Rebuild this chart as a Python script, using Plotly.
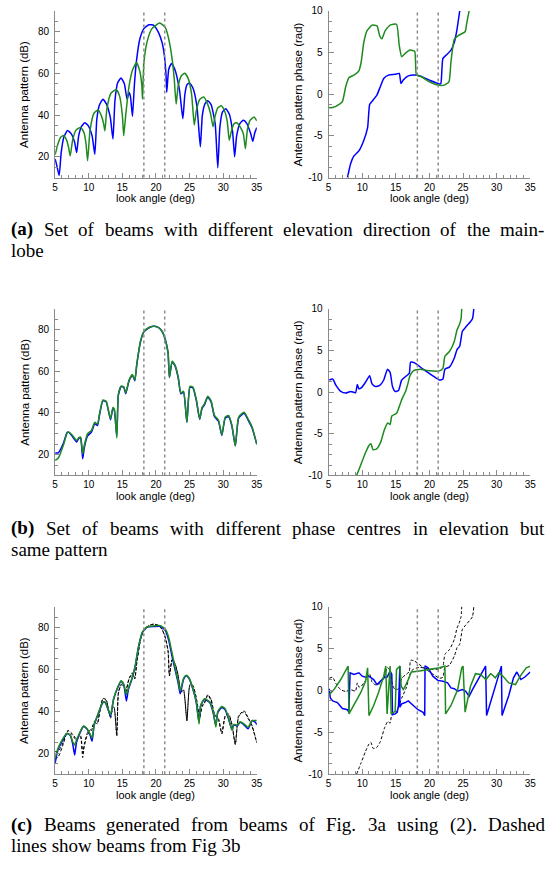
import plotly.graph_objects as go

W, H = 554, 870

# ---------------- data ----------------
# (a) amplitude
a_amp_blue_x = [5.0, 5.3, 5.6, 5.9, 6.3, 6.85, 7.4, 7.9, 8.2, 8.5, 8.9, 9.4, 9.9, 10.5, 10.9, 11.2, 11.6, 12.1, 12.6, 13.2, 13.6, 13.9, 14.3, 14.8, 15.3, 15.7, 16.0, 16.2, 16.5, 16.8, 17.1, 17.6, 18.2, 18.95, 19.7, 20.4, 20.9, 21.25, 21.5, 21.6, 21.9, 22.3, 22.8, 23.5, 24.0, 24.3, 24.6, 25.0, 25.5, 26.1, 26.6, 26.9, 27.3, 27.7, 28.2, 28.8, 29.2, 29.5, 29.9, 30.4, 30.9, 31.4, 31.7, 32.0, 32.5, 33.0, 33.5, 34.1, 34.4, 34.7, 35.0]
a_amp_blue_y = [19, 15, 11, 22, 29.5, 32.6, 31, 27, 22, 30, 34.5, 36.3, 35, 30, 21.2, 38, 45, 47.6, 45.5, 39, 28.5, 47, 55.5, 57.8, 55, 47.6, 50.8, 49, 39.4, 55, 66, 76.5, 81.5, 83.4, 83, 79.5, 74.9, 68.6, 59, 51, 62, 64.8, 62, 52, 38.3, 50, 54.5, 55.4, 53, 44, 24.8, 40, 45.5, 46.9, 45, 36, 14.7, 34, 41.5, 43, 40.5, 32, 20, 30, 36, 37.5, 36, 31, 27.4, 31.5, 34]
a_amp_green_x = [5.0, 5.4, 5.8, 6.27, 6.7, 7.0, 7.24, 7.6, 8.1, 8.8, 9.3, 9.6, 9.83, 10.2, 10.8, 11.4, 11.9, 12.2, 12.4, 12.7, 13.3, 14.1, 14.6, 15.0, 15.2, 15.5, 16.0, 16.5, 17.1, 17.6, 17.9, 18.0, 18.2, 18.7, 19.4, 20.56, 21.4, 21.9, 22.4, 22.7, 23.0, 23.3, 23.8, 24.3, 24.8, 25.3, 25.7, 26.0, 26.5, 27.1, 27.6, 28.1, 28.5, 28.8, 29.2, 29.7, 30.2, 30.6, 30.9, 31.2, 31.6, 32.0, 32.5, 33.0, 33.3, 33.6, 34.0, 34.6, 35.0]
a_amp_green_y = [21, 26, 29.3, 30.2, 28, 24.5, 20.4, 28, 32.8, 34.1, 31.5, 26, 18.1, 33, 41, 42.5, 39.5, 36, 32.4, 43, 50.5, 52.3, 49, 40, 30.1, 40, 54, 61.5, 65.2, 61, 54, 47.7, 65, 75.5, 81.5, 84.2, 82, 76.5, 67, 58, 45.3, 54, 59, 60.1, 57.5, 50, 35.2, 42, 47.5, 48.7, 46, 41, 34.4, 39.5, 43.5, 44.5, 42, 37, 27.9, 32, 35.8, 36.3, 34.5, 31, 23.9, 33, 37.5, 39.1, 37.2]

# (a) phase
a_ph_blue_x = [7.8, 8.28, 8.77, 9.5, 10.2, 10.8, 11.1, 11.46, 12.2, 12.7, 13.2, 13.9, 14.9, 15.5, 15.77, 16.1, 16.85, 17.8, 18.6, 20.0, 21.5, 21.7, 22.0, 22.5, 23.2, 23.7, 24.1, 24.5]
a_ph_blue_y = [-10, -8.3, -7.4, -6.8, -5.6, -4.0, -1.24, -0.85, -0.06, 0.93, 1.9, 2.3, 2.4, 2.5, 1.3, 1.7, 2.2, 2.3, 2.2, 1.7, 1.24, 1.3, 4.3, 4.7, 5.3, 6.25, 7.8, 10]
a_ph_green_x = [5.0, 5.6, 6.57, 7.06, 7.55, 8.03, 8.77, 9.5, 9.85, 10.24, 10.7, 11.46, 12.2, 12.6, 12.93, 13.4, 14.15, 15.1, 15.5, 15.87, 16.4, 17.1, 17.8, 18.07, 18.8, 20.0, 21.25, 22.2, 22.9, 23.2, 23.7, 24.4, 25.3, 25.56, 25.9]
a_ph_green_y = [-1.6, -1.6, -1.2, -0.85, 0.93, 2.0, 2.3, 2.8, 3.9, 6.25, 7.6, 8.3, 8.2, 7.0, 6.65, 7.6, 8.3, 8.4, 5.9, 4.5, 4.9, 5.3, 5.15, 2.3, 2.1, 1.5, 1.1, 1.1, 1.5, 3.9, 6.6, 7.1, 7.5, 8.6, 10]

# (b) amplitude
b_amp_blue_x = [5.0, 5.5, 6.27, 6.76, 7.0, 7.5, 8.2, 8.56, 8.8, 9.1, 9.34, 9.83, 10.4, 10.9, 11.3, 11.6, 12.1, 12.6, 12.85, 13.24, 13.6, 13.8, 14.17, 14.4, 14.8, 15.2, 15.5, 16.0, 16.5, 16.85, 17.15, 17.7, 18.2, 18.95, 19.6, 20.2, 20.9, 21.4, 21.8, 22.0, 22.4, 22.85, 23.3, 23.7, 24.1, 24.6, 25.05, 25.5, 26.0, 26.5, 26.85, 27.2, 27.7, 28.2, 28.7, 29.3, 29.8, 30.3, 30.8, 31.3, 31.8, 32.3, 33.1, 33.8, 34.3, 35.0]
b_amp_blue_y = [20.8, 21, 25.8, 30.5, 30.8, 29, 26.1, 28, 27.7, 18, 23.4, 29, 30.8, 34.8, 34, 39, 45.8, 45.3, 42.2, 36.7, 42.2, 41.4, 29, 48.4, 52.6, 52.3, 49.2, 55.5, 58.1, 55.5, 63.3, 74.2, 78.9, 80.9, 81.6, 81.3, 79.2, 75, 68.8, 57, 64.5, 62.5, 57, 49.2, 50, 35.5, 52.3, 52, 46, 37, 42.2, 43.8, 47.6, 45.3, 38.3, 36, 29.2, 37.5, 38.3, 33.6, 24.2, 37.5, 39.8, 36, 32.8, 25]
b_amp_green_x = b_amp_blue_x
b_amp_green_y = [17.2, 18.5, 25.0, 30.2, 30.8, 29.5, 26.8, 28.3, 28.4, 20.3, 24.5, 30.0, 31.6, 35.5, 34.6, 39.5, 46.2, 45.6, 42.5, 37.2, 42.6, 41.8, 28, 48.8, 52.9, 52.6, 49.6, 55.8, 58.4, 55.8, 63.5, 74.4, 79.0, 81.0, 81.6, 81.3, 79.2, 75, 68.8, 57, 64.8, 62.8, 57.3, 49.6, 50.4, 35.5, 52.8, 52.4, 46.5, 37, 42.6, 44.2, 48.0, 45.8, 38.8, 36.5, 29.5, 38.0, 38.8, 34, 24.2, 38.0, 40.3, 36.5, 33.2, 25]

# (b) phase
b_ph_blue_x = [5.1, 5.6, 6.1, 6.8, 7.55, 8.28, 9.0, 9.26, 9.5, 9.85, 10.5, 11.1, 11.46, 11.95, 12.6, 13.2, 13.76, 14.15, 14.5, 14.9, 15.4, 15.87, 16.6, 17.0, 17.2, 17.8, 19.05, 20.5, 21.5, 22.0, 22.3, 22.96, 23.7, 24.1, 24.5, 24.9, 25.4, 26.15, 26.4, 26.6]
b_ph_blue_y = [1.45, 1.57, 0.8, 0.08, -0.12, 0.08, -0.08, 0.9, 0.4, 0.5, 1.2, 1.96, 0.98, 0.67, 0.8, 1.45, 2.75, 2.35, 0.67, 0.08, 0.2, 1.45, 1.96, 2.24, 3.6, 3.5, 2.75, 1.96, 1.45, 1.57, 2.75, 3.0, 4.1, 5.1, 5.5, 7.3, 7.8, 8.5, 8.8, 10]
b_ph_green_x = [9.16, 9.75, 10.5, 11.0, 11.3, 11.6, 12.1, 12.7, 13.3, 13.8, 14.15, 14.4, 15.1, 15.87, 16.5, 16.85, 17.1, 17.6, 18.6, 20.0, 21.5, 22.0, 22.3, 23.0, 23.7, 24.1, 24.4, 24.7, 24.8]
b_ph_green_y = [-10, -8.8, -7.25, -6.4, -6.2, -6.9, -6.85, -6.1, -4.5, -3.7, -3.9, -2.86, -2.55, -0.9, 0.2, 1.2, 1.96, 2.55, 2.75, 2.55, 2.55, 2.86, 4.3, 4.9, 6.1, 7.45, 8.0, 8.8, 10]

# (c) amplitude
c_amp_blue_x = [5.0, 5.4, 6.0, 6.76, 7.24, 7.6, 7.9, 8.2, 9.2, 9.7, 10.2, 10.5, 10.8, 11.4, 12.1, 12.46, 12.85, 13.24, 13.7, 14.3, 14.8, 15.2, 15.6, 15.9, 16.4, 16.9, 17.4, 18.0, 18.7, 19.7, 20.66, 21.4, 21.9, 22.4, 22.85, 23.3, 23.6, 24.1, 24.5, 24.95, 25.5, 26.0, 26.4, 26.65, 27.2, 28.0, 28.5, 28.9, 29.2, 29.8, 30.3, 30.8, 31.3, 31.6, 32.1, 32.5, 33.1, 33.7, 34.3, 34.8, 35.0]
c_amp_blue_y = [15.3, 21.6, 25.5, 29.4, 28.6, 24.7, 19.2, 25.5, 32.8, 31.7, 28.6, 25.8, 33.3, 38.75, 44.2, 44.2, 41.1, 37.7, 45.8, 51.25, 54.4, 52.8, 45, 50.5, 55.2, 61.4, 70.8, 77.8, 80.2, 80.5, 80.6, 78.6, 73.9, 66.1, 59.8, 53.6, 48.4, 55.2, 57, 55.5, 50.5, 44.2, 34.8, 42.7, 45.8, 44.2, 39.5, 33.3, 39.5, 41.9, 40.8, 36.4, 31.4, 33.6, 33, 34.8, 33.6, 31.7, 35.6, 34.8, 33.6]
c_amp_green_x = c_amp_blue_x
c_amp_green_y = [17.7, 22.2, 26.2, 29.6, 28.8, 25.6, 23.9, 26.5, 33.0, 32.0, 29.2, 27.3, 33.6, 39.0, 44.4, 44.4, 41.4, 38.3, 46.0, 51.5, 54.6, 53.0, 48.0, 51.2, 55.5, 61.6, 70.9, 77.9, 80.4, 80.8, 80.9, 79.2, 75.2, 67.8, 60.8, 54.5, 49.7, 55.8, 57.3, 55.8, 50.8, 44.6, 34.0, 43.0, 46.0, 44.6, 40.0, 32.5, 40.0, 42.3, 41.2, 36.8, 31.0, 33.8, 33.4, 35.0, 34.0, 32.4, 35.6, 35.6, 35.6]

# (c) phase (wrapped)
c_ph_blue_x = [5.1, 5.25, 5.6, 6.3, 7.05, 7.8, 8.0, 8.2, 8.77, 9.5, 10.0, 10.5, 10.97, 11.7, 12.2, 12.7, 13.2, 13.7, 14.15, 14.4, 14.5, 14.9, 15.2, 15.4, 15.6, 15.6, 15.87, 16.4, 16.85, 17.6, 18.3, 19.05, 19.3, 19.34, 19.8, 20.5, 21.25, 22.0, 22.7, 23.2, 23.7, 24.2, 24.9, 25.4, 25.9, 26.4, 27.4, 28.35, 28.5, 29.6, 30.7, 30.8, 31.8, 32.5, 33.0, 33.6, 34.2, 35.0]
c_ph_blue_y = [0.2, -0.9, -1.25, -1.45, -2.16, -2.3, -2.6, 2.1, 1.9, 2.1, 1.7, 1.57, 1.7, 1.3, 0.7, 1.1, 1.5, 1.6, 2.3, 1.9, -2.9, -2.8, -2.6, -1.8, 2.9, -2.0, -1.6, -1.45, -1.25, -1.8, -2.3, -2.6, -3.0, 2.94, 2.7, 1.7, 1.2, 1.1, 0.9, 0.3, 0.2, -0.1, 0.1, -0.1, -0.7, 0.1, 1.6, 2.9, -3.0, 0.0, 2.9, -3.0, -0.6, 1.5, 2.2, 1.3, 1.6, 2.2]
c_ph_green_x = [5.1, 5.8, 6.8, 7.55, 7.9, 8.03, 8.77, 9.75, 10.5, 10.8, 11.0, 11.7, 12.4, 13.2, 13.5, 13.7, 14.15, 14.3, 14.9, 15.1, 15.6, 15.8, 16.1, 16.4, 16.85, 17.3, 18.3, 20.0, 21.5, 22.3, 22.4, 23.2, 24.2, 24.8, 25.0, 25.3, 26.1, 26.85, 27.6, 28.4, 29.1, 29.3, 29.8, 30.3, 30.8, 31.8, 32.8, 33.5, 34.4, 35.0]
c_ph_green_y = [-0.5, 0.1, 1.3, 2.3, 2.9, -2.8, -1.8, -0.3, 1.1, 2.7, -3.0, -1.8, -0.3, 1.7, 2.9, -2.8, 2.9, -2.8, -2.5, 2.5, 2.9, 0.5, 0.1, 0.5, 1.3, 2.2, 2.3, 2.5, 2.7, 2.9, -2.8, -1.8, 0.1, 2.7, 2.9, -2.6, 0.5, 2.0, 1.9, 1.3, 2.0, 1.9, 1.5, 2.1, 1.8, 0.9, 0.7, 1.7, 2.7, 2.9]

look_angle_ticks = [5, 10, 15, 20, 25, 30, 35]
db_ticks = [20, 40, 60, 80]
phase_ticks = [-10, -5, 0, 5, 10]
phase_tick_text = ["-10", "-5", "0", "5", "10"]
beam_edges = [18.2, 21.3]

# ---------------- layout helpers ----------------
BLUE = "#0000ff"
GREEN = "#1e8a1e"
AXC = "#8a8a8a"
SANS = "Liberation Sans, Arial, sans-serif"
SERIF = "Liberation Serif, Times New Roman, serif"

cols = [(53, 258), (331, 536)]
rows = [(5, 174), (307, 476), (609, 779)]

fig = go.Figure()
panels = []
k = 0
for r, (top, bot) in enumerate(rows):
    for c, (lft, rgt) in enumerate(cols):
        k += 1
        panels.append((k, r, c, top, bot, lft, rgt))

def ax_name(k, kind):
    return kind + ("" if k == 1 else str(k))

traces = {
    (0, 0): [(a_amp_blue_x, a_amp_blue_y, BLUE, "solid"), (a_amp_green_x, a_amp_green_y, GREEN, "solid")],
    (0, 1): [(a_ph_blue_x, a_ph_blue_y, BLUE, "solid"), (a_ph_green_x, a_ph_green_y, GREEN, "solid")],
    (1, 0): [(b_amp_blue_x, b_amp_blue_y, BLUE, "solid"), (b_amp_green_x, b_amp_green_y, GREEN, "solid")],
    (1, 1): [(b_ph_blue_x, b_ph_blue_y, BLUE, "solid"), (b_ph_green_x, b_ph_green_y, GREEN, "solid")],
    (2, 0): [(b_amp_blue_x, b_amp_blue_y, "black", "dash"), (b_amp_green_x, b_amp_green_y, "black", "dash"),
             (c_amp_blue_x, c_amp_blue_y, BLUE, "solid"), (c_amp_green_x, c_amp_green_y, GREEN, "solid")],
    (2, 1): [(b_ph_blue_x, b_ph_blue_y, "black", "dash"), (b_ph_green_x, b_ph_green_y, "black", "dash"),
             (c_ph_blue_x, c_ph_blue_y, BLUE, "solid"), (c_ph_green_x, c_ph_green_y, GREEN, "solid")],
}

annotations = []
shapes = []
for (k, r, c, top, bot, lft, rgt) in panels:
    xa, ya = ax_name(k, "xaxis"), ax_name(k, "yaxis")
    xr, yr = ax_name(k, "x"), ax_name(k, "y")
    for (xs, ys, col, dash) in traces[(r, c)]:
        wrapped = (r == 2 and c == 1 and dash == "solid")
        fig.add_trace(go.Scatter(
            x=xs, y=ys, mode="lines", xaxis=xr, yaxis=yr, showlegend=False, hoverinfo="skip",
            line=dict(color=col, width=1.0 if dash == "dash" else 1.5,
                      dash="3px,2px" if dash == "dash" else "solid",
                      shape="linear" if wrapped else "spline",
                      smoothing=0.5),
            cliponaxis=True))
    common = dict(showgrid=False, zeroline=False, showline=True, linecolor=AXC, linewidth=1,
                  ticks="inside", ticklen=5, tickcolor=AXC, tickwidth=1,
                  tickfont=dict(family=SANS, size=10, color="black"))
    fig.layout[xa] = dict(
        domain=[lft / W, rgt / W], anchor=yr, range=[5, 35],
        tickvals=look_angle_ticks, ticklabelstandoff=0,
        minor=dict(dtick=1, tick0=5, ticks="inside", ticklen=3, tickcolor=AXC),
        **common)
    if c == 0:
        fig.layout[ya] = dict(domain=[1 - bot / H, 1 - top / H], anchor=xr, range=[10, 90],
                              tickvals=db_ticks, ticklabelstandoff=3,
                              minor=dict(dtick=5, tick0=0, ticks="inside", ticklen=3, tickcolor=AXC),
                              **common)
        ytitle = "Antenna pattern (dB)"
    else:
        fig.layout[ya] = dict(domain=[1 - bot / H, 1 - top / H], anchor=xr, range=[-10, 10],
                              tickvals=phase_ticks, ticktext=phase_tick_text, ticklabelstandoff=3,
                              minor=dict(dtick=1.25, tick0=0, ticks="inside", ticklen=3, tickcolor=AXC),
                              **common)
        ytitle = "Antenna pattern phase (rad)"
    for xe in beam_edges:
        shapes.append(dict(type="line", xref=xr, yref=ya.replace("axis", "") + " domain",
                           x0=xe, x1=xe, y0=0, y1=1,
                           line=dict(color="#8c8c8c", width=1.5, dash="3px,3px")))
    annotations.append(dict(text="look angle (deg)", xref="paper", yref="paper",
                            x=(lft + rgt) / 2 / W, y=1 - (bot + 21) / H, showarrow=False,
                            font=dict(family=SANS, size=11, color="black"),
                            xanchor="center", yanchor="middle"))
    annotations.append(dict(text=ytitle, xref="paper", yref="paper", textangle=-90,
                            x=(lft - 31) / W, y=1 - (top + bot) / 2 / H, showarrow=False,
                            font=dict(family=SANS, size=11.5, color="black"),
                            xanchor="center", yanchor="middle"))

# ---- captions (first lines justified word by word, Times metrics) ----
TW = {' ': 250, '(': 333, ')': 333, 'a': 444, 'b': 500, 'c': 444, 'd': 500, 'e': 444, 'f': 333,
      'g': 500, 'h': 500, 'i': 278, 'j': 278, 'k': 500, 'l': 278, 'm': 778, 'n': 500, 'o': 500,
      'p': 500, 'q': 500, 'r': 333, 's': 389, 't': 278, 'u': 500, 'v': 500, 'w': 722, 'x': 500,
      'y': 500, 'z': 444, '-': 333, '.': 250, '2': 500, '3': 500, 'B': 667, 'D': 722, 'F': 556, 'S': 556}
TWB = {'(': 333, ')': 333, 'a': 500, 'b': 556, 'c': 444}
CAP_FS = 19
CAP_L, CAP_R = 7, 549

def word_w(w, bold=False):
    tab = TWB if bold else TW
    return sum(tab.get(ch, TW.get(ch, 500)) for ch in w) * CAP_FS / 1000.0

captions = [
    ("(a)", "Set of beams with different elevation direction of the main-", "lobe", 226.5),
    ("(b)", "Set of beams with different phase centres in elevation but", "same pattern", 529.5),
    ("(c)", "Beams generated from beams of Fig. 3a using (2). Dashed", "lines show beams from Fig 3b", 830),
]
LINE = 21.5
for lab, first, second, yp in captions:
    words = [(lab, True)] + [(w, False) for w in first.split(" ")]
    widths = [word_w(w, b) for w, b in words]
    gap = (CAP_R - CAP_L - sum(widths)) / (len(words) - 1)
    xpos = CAP_L
    for (w, b), wd in zip(words, widths):
        annotations.append(dict(text=("<b>%s</b>" % w) if b else w, xref="paper", yref="paper",
                                x=xpos / W, y=1 - yp / H, showarrow=False, borderpad=0,
                                xanchor="left", yanchor="middle",
                                font=dict(family=SERIF, size=CAP_FS, color="black")))
        xpos += wd + gap
    annotations.append(dict(text=second, xref="paper", yref="paper", x=CAP_L / W, y=1 - (yp + LINE) / H,
                            showarrow=False, xanchor="left", yanchor="middle", borderpad=0,
                            font=dict(family=SERIF, size=CAP_FS, color="black")))

fig.update_layout(width=W, height=H, margin=dict(l=0, r=0, t=0, b=0),
                  plot_bgcolor="white", paper_bgcolor="white",
                  annotations=annotations, shapes=shapes, showlegend=False)
fig.write_html("out.html", config={"displayModeBar": False},
               post_script="document.body.style.margin='0';document.body.style.overflow='hidden';")
